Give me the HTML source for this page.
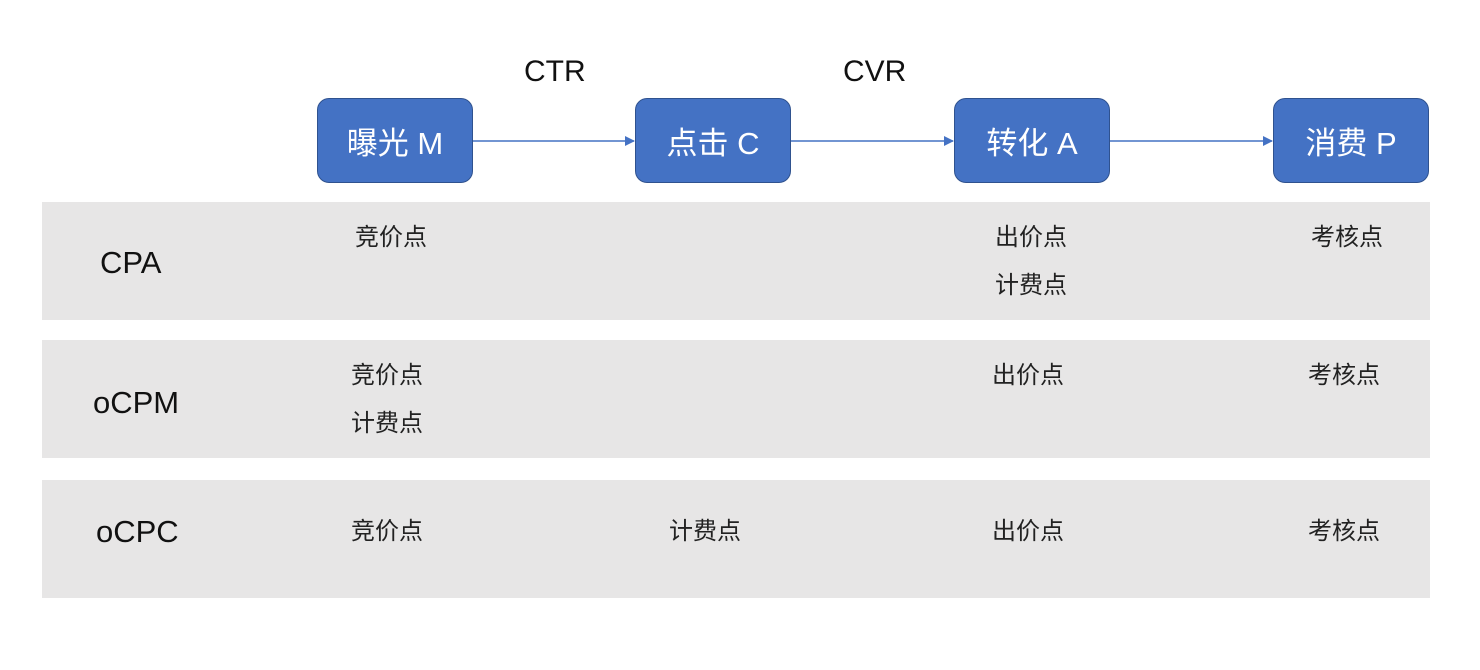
<!DOCTYPE html>
<html><head><meta charset="utf-8"><style>
body{margin:0;width:1480px;height:670px;background:#fff;position:relative;font-family:"Liberation Sans","Noto Sans CJK SC",sans-serif;overflow:hidden}
.b{position:absolute;width:156px;height:85px;background:#4472C4;border:1.5px solid #2F528F;border-radius:12px;color:#fff;font-size:31px;display:flex;align-items:center;justify-content:center;box-sizing:border-box}
.band{position:absolute;left:42px;width:1388px;height:118px;background:#E7E6E6}
.t{position:absolute;font-size:24px;color:#222;white-space:nowrap;line-height:48px}
.r{position:absolute;font-size:31px;color:#111}
.h{position:absolute;font-size:30px;color:#111}
</style></head><body>
<svg width="1480" height="670" style="position:absolute;left:0;top:0">
<defs><marker id="a" markerWidth="10" markerHeight="10" refX="9" refY="5" orient="auto" markerUnits="userSpaceOnUse"><path d="M0,0 L10,5 L0,10z" fill="#4472C4"/></marker></defs>
<line x1="472" y1="141" x2="634" y2="141" stroke="#4472C4" stroke-width="1.5" marker-end="url(#a)"/>
<line x1="791" y1="141" x2="953" y2="141" stroke="#4472C4" stroke-width="1.5" marker-end="url(#a)"/>
<line x1="1110" y1="141" x2="1272" y2="141" stroke="#4472C4" stroke-width="1.5" marker-end="url(#a)"/>
</svg>
<div class="h" style="left:524px;top:55px">CTR</div>
<div class="h" style="left:843px;top:55px">CVR</div>
<div class="b" style="left:317px;top:98px">曝光 M</div>
<div class="b" style="left:635px;top:98px">点击 C</div>
<div class="b" style="left:954px;top:98px">转化 A</div>
<div class="b" style="left:1273px;top:98px">消费 P</div>
<div class="band" style="top:202px"></div>
<div class="band" style="top:340px"></div>
<div class="band" style="top:480px"></div>
<div class="r" style="left:100px;top:245px">CPA</div>
<div class="r" style="left:93px;top:385px">oCPM</div>
<div class="r" style="left:96px;top:514px">oCPC</div>
<div class="t" style="left:355px;top:214px">竞价点</div>
<div class="t" style="left:995px;top:214px">出价点<br>计费点</div>
<div class="t" style="left:1311px;top:214px">考核点</div>
<div class="t" style="left:351px;top:352px">竞价点<br>计费点</div>
<div class="t" style="left:992px;top:352px">出价点</div>
<div class="t" style="left:1308px;top:352px">考核点</div>
<div class="t" style="left:351px;top:508px">竞价点</div>
<div class="t" style="left:669px;top:508px">计费点</div>
<div class="t" style="left:992px;top:508px">出价点</div>
<div class="t" style="left:1308px;top:508px">考核点</div>
</body></html>
